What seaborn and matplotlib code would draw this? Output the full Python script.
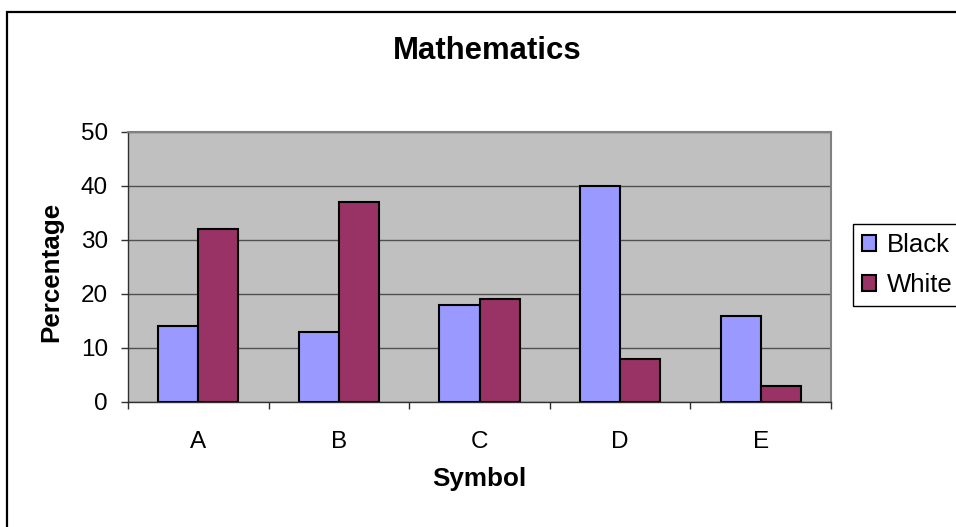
import matplotlib
matplotlib.use("Agg")
import matplotlib.pyplot as plt
import matplotlib.patches as mpatches
import seaborn as sns
import pandas as pd
import numpy as np

# ---- data ----
symbols = ["A", "B", "C", "D", "E"]
black_vals = [14, 13, 18, 40, 16]
white_vals = [32, 37, 19, 8, 3]
series_names = ["Black", "White"]
yticks = [0, 10, 20, 30, 40, 50]

df = pd.DataFrame({
    "Symbol": symbols * 2,
    "Percentage": black_vals + white_vals,
    "Group": [series_names[0]] * len(symbols) + [series_names[1]] * len(symbols),
})

sns.set_style("white")
plt.rcParams["font.family"] = ["Liberation Sans", "DejaVu Sans"]
plt.rcParams["text.color"] = "black"
plt.rcParams["axes.labelcolor"] = "black"
plt.rcParams["xtick.color"] = "black"
plt.rcParams["ytick.color"] = "black"

W, H = 956, 527
fig = plt.figure(figsize=(W / 100, H / 100), dpi=100)
L, R, T, B = 128, 831, 132, 402
ax = fig.add_axes([L / W, 1 - B / H, (R - L) / W, (B - T) / H])

palette = {"Black": "#9999FF", "White": "#993366"}
sns.barplot(data=df, x="Symbol", y="Percentage", hue="Group", order=symbols,
            hue_order=series_names, palette=palette, width=0.57,
            edgecolor="black", linewidth=1.5, saturation=1, ax=ax)

ax.set_facecolor("#C0C0C0")
ax.set_xlim(-0.5, len(symbols) - 0.5)
ax.set_ylim(0, 50)
ax.set_yticks(yticks)
ax.set_axisbelow(True)
ax.yaxis.grid(True, color="#505050", linewidth=1.0)
ax.xaxis.grid(False)

for s in ["top", "right"]:
    ax.spines[s].set_color("#808080")
    ax.spines[s].set_linewidth(1.5)
    ax.spines[s].set_visible(True)
for s in ["left", "bottom"]:
    ax.spines[s].set_color("#303030")
    ax.spines[s].set_linewidth(1.0)
    ax.spines[s].set_visible(True)

# ticks
ax.tick_params(axis="y", which="major", direction="out", length=5, width=1,
               color="#303030", labelcolor="black", labelsize=17.5, pad=9.5, left=True)
ax.set_xticks(np.arange(len(symbols)))
ax.set_xticks(np.arange(len(symbols) + 1) - 0.5, minor=True)
ax.tick_params(axis="x", which="major", length=0, labelsize=17.5, pad=21,
               labelcolor="black")
ax.tick_params(axis="x", which="minor", direction="out", length=5, width=1,
               color="#303030", bottom=True)

ax.set_xlabel("Symbol", fontsize=18.7, fontweight="bold", va="center", color="black")
ax.xaxis.set_label_coords(0.5, -0.285)
ax.set_ylabel("Percentage", fontsize=18.7, fontweight="bold", va="center", color="black")
ax.yaxis.set_label_coords(-0.1095, 0.483)

fig.text(487.5 / W, 1 - 51.3 / H, "Mathematics", fontsize=22.4,
         fontweight="bold", ha="center", va="center", color="black")

sns.move_legend(ax, loc="upper left", bbox_to_anchor=(853 / W, 1 - 224 / H),
                bbox_transform=fig.transFigure, title=None, frameon=True,
                fontsize=18.5, handlelength=0.55, handleheight=0.55,
                handletextpad=0.39, borderpad=0.36, labelspacing=0.61,
                borderaxespad=0, fancybox=False)
leg = ax.get_legend()
leg.get_frame().set_edgecolor("black")
leg.get_frame().set_linewidth(1.0)
leg.get_frame().set_alpha(None)
leg.get_frame().set_facecolor("white")
for t in leg.get_texts():
    t.set_color("black")

# outer chart frame
frame = mpatches.Rectangle((7 / W, -0.1), 1.2, (H - 12) / H + 0.1,
                           transform=fig.transFigure, fill=False,
                           edgecolor="black", linewidth=1.6, zorder=10)
fig.patches.append(frame)

fig.savefig("out.png", dpi=100)
